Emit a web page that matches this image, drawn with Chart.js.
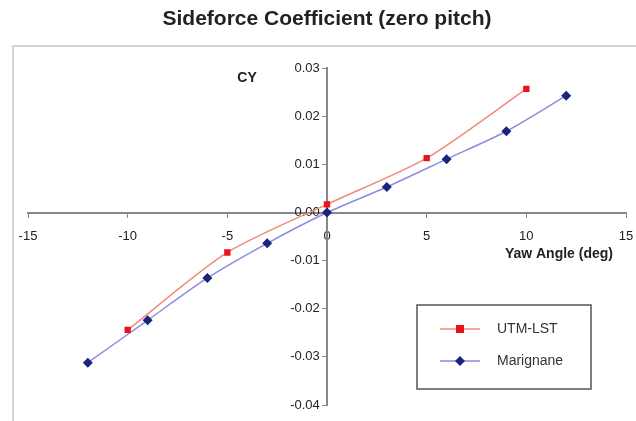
<!DOCTYPE html>
<html>
<head>
<meta charset="utf-8">
<script src="https://cdn.jsdelivr.net/npm/chart.js@4"></script>
<style>
html,body{margin:0;padding:0;background:#fff;}
#wrap{position:relative;width:636px;height:421px;}
</style>
</head>
<body>
<div id="wrap"><canvas id="c" width="636" height="421"></canvas></div>
<script>
const chartTitle = "Sideforce Coefficient (zero pitch)";
const xTitle = "Yaw Angle (deg)";
const yTitle = "CY";
const seriesNames = ["UTM-LST", "Marignane"];
const yawUTM = [-10, -5, 0, 5, 10];
const cyUTM = [-0.0244, -0.0083, 0.0017, 0.0113, 0.0257];
const yawMar = [-12, -9, -6, -3, 0, 3, 6, 9, 12];
const cyMar = [-0.0312, -0.0224, -0.0136, -0.0064, 0.0, 0.0053, 0.0111, 0.0169, 0.0243];
const xTicks = [-15, -10, -5, 0, 5, 10, 15];
const yTicks = [-0.04, -0.03, -0.02, -0.01, 0.00, 0.01, 0.02, 0.03];

const FONT = '"Liberation Sans", Arial, Helvetica, sans-serif';
const toPts = (xs, ys) => xs.map((x, i) => ({x: x, y: ys[i]}));

const framePlugin = {
  id: 'frame',
  beforeDraw(chart) {
    const ctx = chart.ctx;
    ctx.save();
    ctx.fillStyle = '#fff';
    ctx.fillRect(0, 0, chart.width, chart.height);
    ctx.strokeStyle = '#d4d4d4';
    ctx.lineWidth = 2;
    ctx.strokeRect(13, 46, chart.width + 20, chart.height + 20);
    ctx.restore();
  }
};

const extrasPlugin = {
  id: 'extras',
  afterDraw(chart) {
    const ctx = chart.ctx;
    const xs = chart.scales.x, ys = chart.scales.y;
    ctx.save();
    ctx.fillStyle = '#222';
    ctx.font = 'bold 14px ' + FONT;
    ctx.textAlign = 'center';
    ctx.textBaseline = 'middle';
    ctx.fillText(yTitle, xs.getPixelForValue(0) - 80, ys.getPixelForValue(0.03) + 10);
    ctx.textAlign = 'right';
    ctx.fillText(xTitle, xs.right - 13, ys.getPixelForValue(0) + 42);

    // legend
    const bx = 417, by = 305, bw = 174, bh = 84;
    ctx.strokeStyle = '#555';
    ctx.lineWidth = 1.5;
    ctx.strokeRect(bx, by, bw, bh);
    const rows = [by + 24, by + 56];
    chart.data.datasets.forEach((ds, i) => {
      const y = rows[i];
      ctx.strokeStyle = ds.borderColor;
      ctx.lineWidth = 1.5;
      ctx.beginPath();
      ctx.moveTo(440, y);
      ctx.lineTo(480, y);
      ctx.stroke();
      ctx.fillStyle = ds.pointBackgroundColor;
      if (ds.pointStyle === 'rect') {
        ctx.fillRect(460 - 4, y - 4, 8, 8);
      } else {
        ctx.beginPath();
        ctx.moveTo(460, y - 5);
        ctx.lineTo(465, y);
        ctx.lineTo(460, y + 5);
        ctx.lineTo(455, y);
        ctx.closePath();
        ctx.fill();
      }
      ctx.fillStyle = '#333';
      ctx.font = '14px ' + FONT;
      ctx.textAlign = 'left';
      ctx.fillText(ds.label, 497, y);
    });
    ctx.restore();
  }
};

new Chart(document.getElementById('c'), {
  type: 'scatter',
  data: {
    datasets: [
      {
        label: seriesNames[0],
        data: toPts(yawUTM, cyUTM),
        showLine: true,
        borderColor: '#f28a78',
        borderWidth: 1.5,
        pointStyle: 'rect',
        pointRadius: 4.5,
        pointBackgroundColor: '#e8141c',
        pointBorderColor: '#e8141c',
        pointBorderWidth: 0,
        tension: 0.25
      },
      {
        label: seriesNames[1],
        data: toPts(yawMar, cyMar),
        showLine: true,
        borderColor: '#8c8ce0',
        borderWidth: 1.5,
        pointStyle: 'rectRot',
        pointRadius: 5,
        pointBackgroundColor: '#1a237e',
        pointBorderColor: '#1a237e',
        pointBorderWidth: 0,
        tension: 0.25
      }
    ]
  },
  options: {
    responsive: false,
    animation: false,
    events: [],
    layout: {padding: {left: 28, right: 10, bottom: 16, top: 0}},
    plugins: {
      legend: {display: false},
      tooltip: {enabled: false},
      title: {
        display: true,
        text: chartTitle,
        color: '#222',
        font: {family: FONT, size: 21, weight: 'bold'},
        padding: {top: 7, bottom: 36}
      }
    },
    scales: {
      x: {
        type: 'linear',
        min: -15, max: 15,
        position: {y: 0},
        afterBuildTicks: (s) => { s.ticks = xTicks.map(v => ({value: v})); },
        afterFit: (s) => { s.paddingLeft = 0; s.paddingRight = 0; },
        ticks: {
          color: '#222',
          font: {family: FONT, size: 13},
          padding: 12,
          callback: (v) => String(v)
        },
        grid: {drawOnChartArea: false, drawTicks: true, tickLength: 4, color: '#888', lineWidth: 1},
        border: {color: '#888', width: 2}
      },
      y: {
        type: 'linear',
        min: -0.04, max: 0.03,
        position: {x: 0},
        afterBuildTicks: (s) => { s.ticks = yTicks.map(v => ({value: v})); },
        afterFit: (s) => { s.paddingTop = 0; s.paddingBottom = 0; },
        ticks: {
          color: '#222',
          font: {family: FONT, size: 13},
          padding: 4,
          callback: (v) => Number(v).toFixed(2) + '\u00A0\u00A0'
        },
        grid: {drawOnChartArea: false, drawTicks: true, tickLength: 4, color: '#888', lineWidth: 1},
        border: {color: '#888', width: 2}
      }
    }
  },
  plugins: [framePlugin, extrasPlugin]
});
</script>
</body>
</html>
